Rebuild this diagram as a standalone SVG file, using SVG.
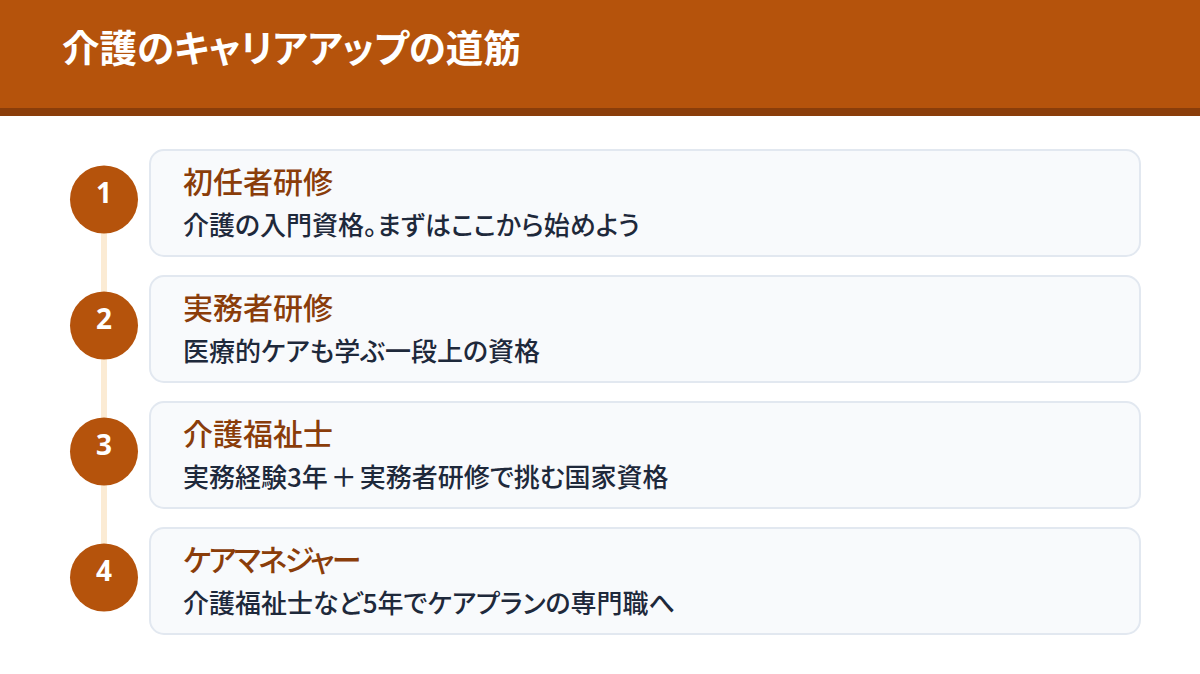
<svg xmlns="http://www.w3.org/2000/svg" width="1200" height="674" viewBox="0 0 1200 674">
<style>
.hdr{fill:#B5530C}
.hdr2{fill:#8A3D0A}
.ttl{font-family:"Noto Sans CJK JP","Noto Sans",sans-serif;font-size:37.5px;font-weight:700;fill:#FFFFFF;font-feature-settings:"palt"}
.card{fill:#F8FAFC;stroke:#E2E8F0;stroke-width:2}
.dot{fill:#B5530C}
.num{font-family:"Open Sans","Noto Sans",sans-serif;font-size:28px;font-weight:700;fill:#FFFFFF;text-anchor:middle}
.h{font-family:"Noto Sans CJK JP",sans-serif;font-size:30px;font-weight:500;fill:#8A3D0A;font-feature-settings:"palt"}
.d{font-family:"Noto Sans CJK JP",sans-serif;font-size:26px;font-weight:500;fill:#1E293B;font-feature-settings:"palt"}
</style>
<rect width="1200" height="674" fill="#FFFFFF"/>
<g id="header">
<rect class="hdr" x="0" y="0" width="1200" height="108"/>
<rect class="hdr2" x="0" y="108" width="1200" height="8"/>
<text class="ttl" x="62" y="62">介護のキャリアアップの道筋</text>
</g>
<g id="connectors">
<rect x="101" y="199" width="6" height="379" fill="#FBEBD4"/>
</g>
<g id="step1">
<rect class="card" x="150" y="150" width="990" height="106" rx="14"/>
<circle class="dot" cx="104" cy="199.5" r="34"/>
<text class="num" x="104" y="203">1</text>
<text class="h" x="183" y="193">初任者研修</text>
<text class="d" x="183" y="235">介護の入門資格。まずはここから始めよう</text>
</g>
<g id="step2">
<rect class="card" x="150" y="276" width="990" height="106" rx="14"/>
<circle class="dot" cx="104" cy="325.5" r="34"/>
<text class="num" x="104" y="329">2</text>
<text class="h" x="183" y="319">実務者研修</text>
<text class="d" x="183" y="361">医療的ケアも学ぶ一段上の資格</text>
</g>
<g id="step3">
<rect class="card" x="150" y="402" width="990" height="106" rx="14"/>
<circle class="dot" cx="104" cy="451.5" r="34"/>
<text class="num" x="104" y="455">3</text>
<text class="h" x="183" y="445">介護福祉士</text>
<text class="d" x="183" y="487">実務経験3年<tspan dx="3">＋</tspan><tspan dx="3">実務者研修で挑む国家資格</tspan></text>
</g>
<g id="step4">
<rect class="card" x="150" y="528" width="990" height="106" rx="14"/>
<circle class="dot" cx="104" cy="577.5" r="34"/>
<text class="num" x="104" y="581">4</text>
<text class="h" x="183" y="571" letter-spacing="-2.5">ケアマネジャー</text>
<text class="d" x="183" y="613">介護福祉士など5年でケアプランの専門職へ</text>
</g>
</svg>
